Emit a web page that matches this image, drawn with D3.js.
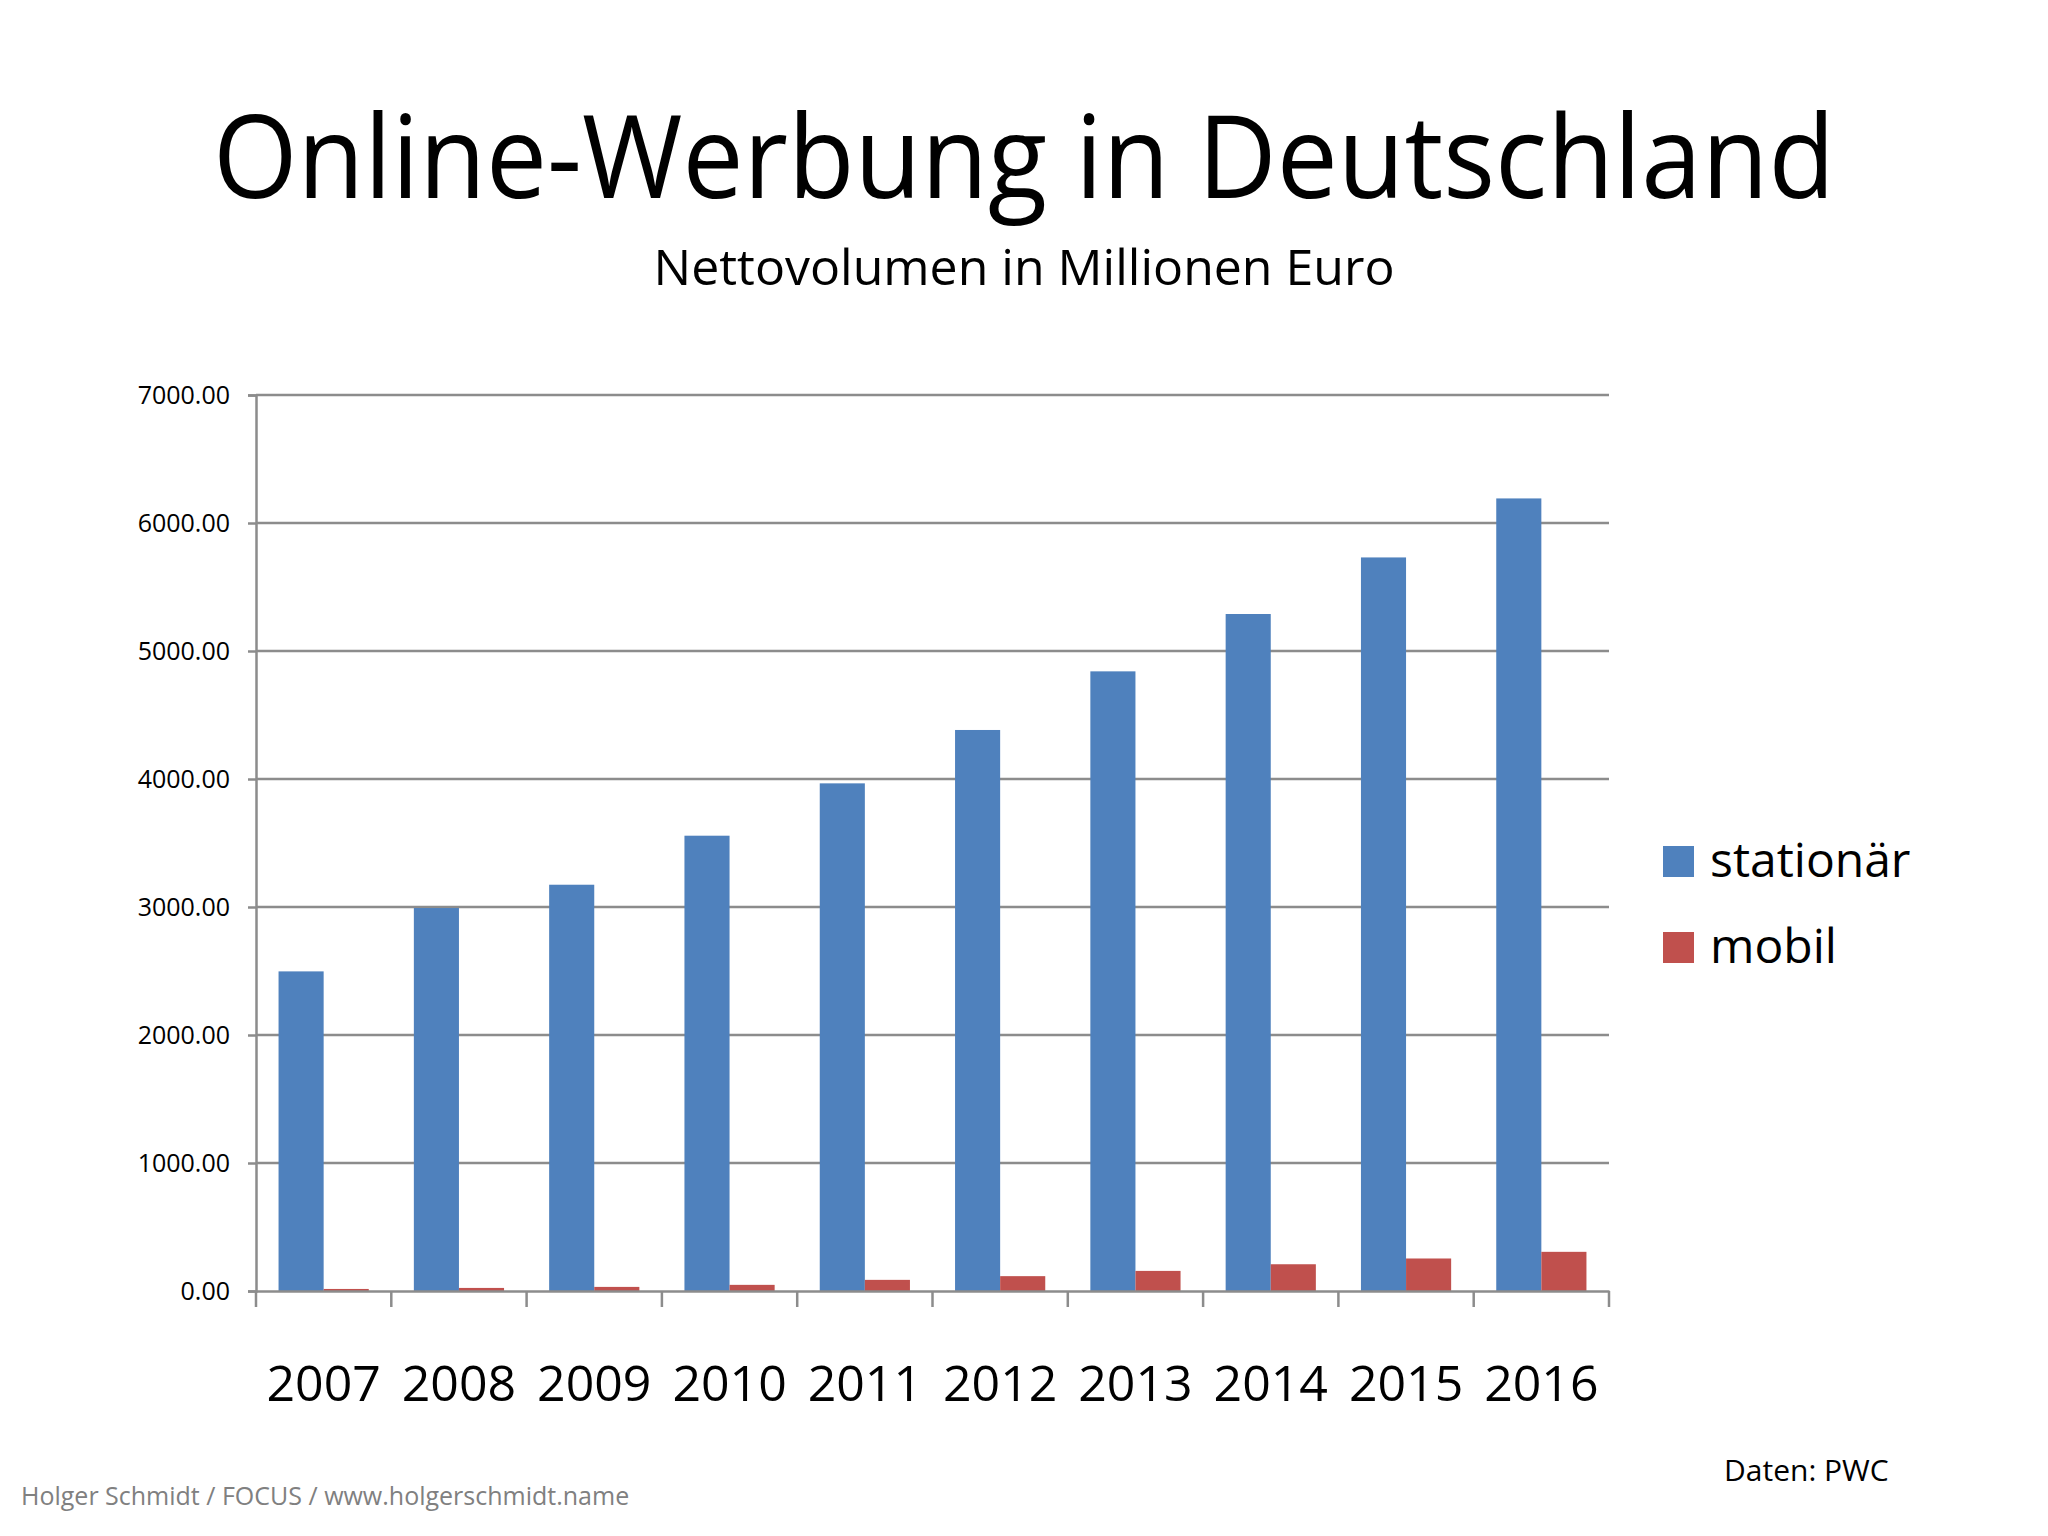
<!DOCTYPE html>
<html>
<head>
<meta charset="utf-8">
<script src="https://cdn.jsdelivr.net/npm/d3@7"></script>
<style>
  html, body { margin: 0; padding: 0; background: #ffffff; }
  svg { display: block; }
  text { font-family: "Open Sans", "Noto Sans", sans-serif; }
</style>
</head>
<body>
<svg id="chart" width="2048" height="1536"></svg>
<script>
// ---- data ----
const years = ["2007", "2008", "2009", "2010", "2011", "2012", "2013", "2014", "2015", "2016"];
const stationaer = [2497, 2992, 3174, 3557, 3966, 4383, 4841, 5289, 5731, 6192];
const mobil = [16, 24, 32, 48, 87, 116, 157, 209, 254, 306];
const seriesNames = ["stationär", "mobil"];
const seriesColors = ["#4F81BD", "#C0504D"];
const yTicks = [0, 1000, 2000, 3000, 4000, 5000, 6000, 7000];
const titleText = "Online-Werbung in Deutschland";
const subtitleText = "Nettovolumen in Millionen Euro";
const footerText = "Holger Schmidt / FOCUS / www.holgerschmidt.name";
const sourceText = "Daten: PWC";

// ---- layout ----
const W = 2048, H = 1536;
const plot = { left: 256, right: 1609, top: 395, bottom: 1291 };
const svg = d3.select("#chart");
svg.append("rect").attr("width", W).attr("height", H).attr("fill", "#ffffff");

const x = d3.scaleBand().domain(years).range([plot.left, plot.right]).paddingInner(0).paddingOuter(0);
const xInner = d3.scaleBand().domain(seriesNames).range([0, x.bandwidth()]).paddingInner(0).paddingOuter(0.5);
const y = d3.scaleLinear().domain([0, 7000]).range([plot.bottom, plot.top]);

const gridColor = "#8c8c8c";

// gridlines + y axis
const yAxis = d3.axisLeft(y).tickValues(yTicks).tickSize(8).tickFormat(d => d.toFixed(2)).tickPadding(18);
const gy = svg.append("g").attr("transform", `translate(${plot.left},0)`).call(yAxis);
gy.select(".domain").attr("stroke", gridColor).attr("stroke-width", 2.5);
gy.selectAll(".tick line").attr("stroke", gridColor).attr("stroke-width", 2.5);
gy.selectAll(".tick text").attr("font-size", 25).attr("fill", "#000").attr("font-family", "\"Open Sans\", sans-serif");

svg.append("g").selectAll("line").data(yTicks.filter(d => d > 0)).join("line")
  .attr("x1", plot.left).attr("x2", plot.right)
  .attr("y1", d => y(d)).attr("y2", d => y(d))
  .attr("stroke", gridColor).attr("stroke-width", 2.5);

// bars
const data = years.map((yr, i) => ({ year: yr, values: [stationaer[i], mobil[i]] }));
const groups = svg.append("g").selectAll("g").data(data).join("g")
  .attr("transform", d => `translate(${x(d.year)},0)`);
groups.selectAll("rect").data(d => d.values.map((v, j) => ({ name: seriesNames[j], v, j }))).join("rect")
  .attr("x", d => xInner(d.name))
  .attr("width", xInner.bandwidth())
  .attr("y", d => y(d.v))
  .attr("height", d => y(0) - y(d.v))
  .attr("fill", d => seriesColors[d.j]);

// x axis
const xAxis = d3.axisBottom(x).tickSize(0).tickPadding(0);
const gx = svg.append("g").attr("transform", `translate(0,${plot.bottom})`).call(xAxis);
gx.select(".domain").attr("stroke", gridColor).attr("stroke-width", 2.5);
gx.selectAll(".tick text").attr("font-size", 50).attr("fill", "#000")
  .attr("dy", 0).attr("y", 110).attr("font-family", "\"Open Sans\", sans-serif");
// category boundary ticks
const bounds = years.map(d => x(d)).concat([plot.right]);
svg.append("g").selectAll("line").data(bounds).join("line")
  .attr("x1", d => d).attr("x2", d => d)
  .attr("y1", plot.bottom).attr("y2", plot.bottom + 16)
  .attr("stroke", gridColor).attr("stroke-width", 2.5);

// titles
svg.append("text").attr("x", 1024).attr("y", 198).attr("text-anchor", "middle")
  .attr("font-size", 116).attr("fill", "#000")
  .attr("textLength", 1622).attr("lengthAdjust", "spacingAndGlyphs").text(titleText);
svg.append("text").attr("x", 1024).attr("y", 285).attr("text-anchor", "middle")
  .attr("font-size", 50).attr("fill", "#000").text(subtitleText);

// legend
const legend = svg.append("g").attr("transform", "translate(1663,846)");
seriesNames.forEach((n, i) => {
  const g = legend.append("g").attr("transform", `translate(0,${i * 86})`);
  g.append("rect").attr("width", 31).attr("height", 31).attr("fill", seriesColors[i]);
  g.append("text").attr("x", 47).attr("y", 31).attr("font-size", 48).attr("fill", "#000").text(n);
});

// footer
svg.append("text").attr("x", 21).attr("y", 1505).attr("font-size", 25).attr("fill", "#808080").text(footerText);
svg.append("text").attr("x", 1724).attr("y", 1481).attr("font-size", 30).attr("fill", "#000").text(sourceText);
</script>
</body>
</html>
